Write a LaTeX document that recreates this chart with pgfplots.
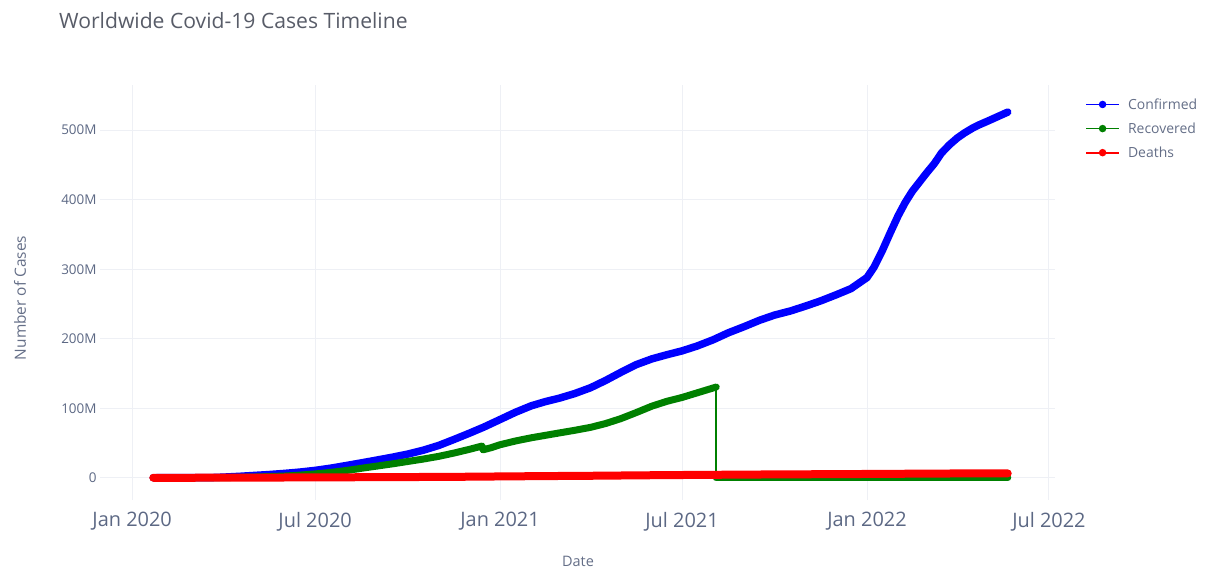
\documentclass[border=0pt]{standalone}
\usepackage{pgfplots}
\pgfplotsset{compat=1.18}
\usepackage{fontspec}
\setmainfont{Open Sans}
\definecolor{titlecol}{RGB}{88,92,104}
\definecolor{tickcol}{RGB}{92,104,132}
\definecolor{labcol}{RGB}{100,110,135}
\definecolor{gridcol}{RGB}{238,240,245}
\definecolor{cblue}{RGB}{0,0,255}
\definecolor{cgreen}{RGB}{0,128,0}
\definecolor{cred}{RGB}{255,0,0}
\begin{document}
\begin{tikzpicture}
\path[use as bounding box] (0,0) rectangle (1211bp,572bp);
\node[anchor=west, text=titlecol, font=\fontsize{21.2}{25}\selectfont, inner sep=0pt] at (59bp,551bp) {Worldwide Covid-19 Cases Timeline};
\begin{axis}[
  scale only axis, width=955bp, height=415bp,
  at={(100bp,72bp)}, anchor=south west,
  xmin=-32, xmax=918, ymin=-32, ymax=565,
  xtick={0,182,366,547,731,912},
  xticklabels={Jan 2020,Jul 2020,Jan 2021,Jul 2021,Jan 2022,Jul 2022},
  ytick={0,100,200,300,400,500},
  yticklabels={0,100M,200M,300M,400M,500M},
  grid=major, major grid style={draw=gridcol, line width=1bp},
  axis line style={draw=none}, tick style={draw=none},
  xticklabel style={font=\fontsize{20}{24}\selectfont, text=tickcol, yshift=-9bp},
  yticklabel style={font=\fontsize{13.5}{16}\selectfont, text=tickcol},
  xlabel={Date}, ylabel={Number of Cases},
  xlabel style={font=\fontsize{14.5}{17}\selectfont, text=labcol, at={(axis description cs:0.5005,-0.149)}, anchor=center},
  ylabel style={font=\fontsize{15.5}{18}\selectfont, text=labcol, at={(axis description cs:-0.0838,0.487)}, anchor=center},
  legend cell align=left,
  legend style={draw=none, fill=none, at={(axis description cs:1.0314,0.973)}, anchor=north west,
    font=\fontsize{14}{16}\selectfont, text=labcol, row sep=8bp, inner sep=0pt},
  legend image code/.code={\draw[mark repeat=2,mark phase=2] plot coordinates {(0bp,0bp)(16.5bp,0bp)(33bp,0bp)}; \path[draw=none] (0bp,0bp) -- (40bp,0bp);},
  clip=false,
]
% Confirmed
\addplot[cblue, line width=7.5bp, line cap=round, line join=round, forget plot] coordinates {
(21,0.0006) (40,0.04) (60,0.09) (70,0.13) (80,0.30) (91,0.93) (106,2.0) (121,3.3) (136,4.6) (152,6.3)
(167,8.2) (182,10.6) (198,13.9) (213,17.6) (228,21.4) (244,25.6) (259,29.6) (274,34.0) (290,39.8)
(305,46.5) (320,55.0) (335,63.8) (350,73.0) (366,83.8) (381,94.0) (397,103.5) (411,109.5) (425,114.5)
(440,121.0) (456,129.5) (471,140.0) (486,151.5) (501,162.5) (517,171.0) (532,177.0) (547,182.5)
(562,189.5) (578,198.5) (593,208.5) (609,217.5) (624,226.5) (639,234.0) (655,240.0) (670,247.0)
(685,254.5) (700,263.0) (715,272.0) (731,288.0) (738,303) (746,326) (754,352) (762,377) (769,396)
(776,412) (783,425) (790,438) (798,452) (805,467) (813,479) (821,489) (828,496) (836,503) (843,508)
(851,513) (861,519.5) (871,526)
};
% Recovered
\addplot[cgreen, line width=7bp, line cap=round, line join=round, forget plot] coordinates {
(21,0.03) (60,0.04) (80,0.1) (91,0.19) (106,0.55) (121,1.0) (136,1.7) (152,2.5) (167,3.8) (182,5.5)
(198,7.8) (213,10.4) (228,13.6) (244,16.9) (259,20.0) (274,23.4) (290,27.0) (305,30.8) (320,35.5)
(335,40.7) (348,45.6) (349,40.2) (357,43.2) (366,47.5) (381,52.8) (397,57.5) (411,61.0) (425,64.5)
(440,68.2) (456,72.5) (471,78.0) (486,85.0) (501,93.5) (517,103.0) (532,110.0) (547,115.5)
(564,123.0) (581,130.5)
};
\addplot[cgreen, line width=1.5bp, forget plot] coordinates {(581,130.5) (581,0)};
\addplot[cgreen, line width=7bp, line cap=round, forget plot] coordinates {(581,0) (871,0)};
% Deaths
\addplot[cred, line width=8bp, line cap=round, line join=round, forget plot] coordinates {
(21,0.0) (60,0.003) (91,0.05) (121,0.24) (152,0.37) (182,0.52) (213,0.68) (244,0.85) (274,1.02)
(305,1.2) (335,1.48) (366,1.88) (397,2.24) (425,2.54) (456,2.85) (486,3.24) (517,3.63) (547,3.95)
(578,4.24) (609,4.55) (639,4.79) (670,5.0) (700,5.22) (731,5.44) (762,5.70) (790,5.97) (821,6.17)
(851,6.26) (871,6.29)
};
\addlegendimage{cblue, line width=1.8bp, mark=*, mark size=2.8bp}
\addlegendentry{Confirmed}
\addlegendimage{cgreen, line width=1.8bp, mark=*, mark size=2.8bp}
\addlegendentry{Recovered}
\addlegendimage{cred, line width=1.8bp, mark=*, mark size=2.8bp}
\addlegendentry{Deaths}
\end{axis}
\end{tikzpicture}
\end{document}
